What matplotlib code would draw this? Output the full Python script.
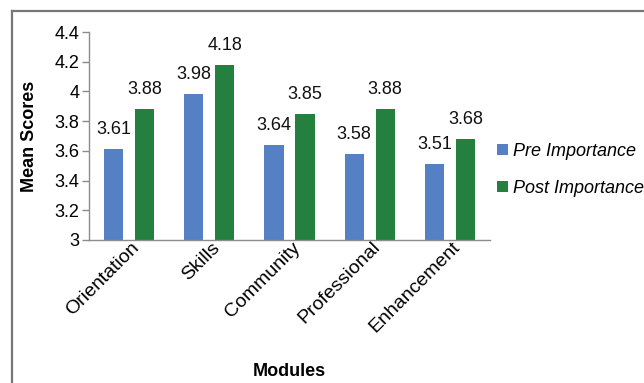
import matplotlib.pyplot as plt
import matplotlib.transforms as mtransforms
import numpy as np
from matplotlib.lines import Line2D

plt.rcParams['font.family'] = ['Liberation Sans', 'DejaVu Sans']

modules = ["Orientation", "Skills", "Community", "Professional", "Enhancement"]
pre_scores = [3.61, 3.98, 3.64, 3.58, 3.51]
post_scores = [3.88, 4.18, 3.85, 3.88, 3.68]
y_ticks = [3, 3.2, 3.4, 3.6, 3.8, 4, 4.2, 4.4]
y_tick_labels = ["3", "3.2", "3.4", "3.6", "3.8", "4", "4.2", "4.4"]

blue = "#5580C3"
green = "#23803F"
grey = "#8C8C8C"

fig = plt.figure(figsize=(6.44, 3.83), dpi=100)
ax = fig.add_axes([0.1382, 0.3734, 0.6227, 0.5430])

x = np.arange(len(modules))
w = 0.24
off = 0.193
b1 = ax.bar(x - off, pre_scores, w, color=blue, label="Pre Importance")
b2 = ax.bar(x + off, post_scores, w, color=green, label="Post Importance")

for bars, vals in ((b1, pre_scores), (b2, post_scores)):
    for rect, v in zip(bars, vals):
        ax.annotate(f"{v:.2f}", (rect.get_x() + rect.get_width() / 2, v),
                    xytext=(0, 8), textcoords="offset points",
                    ha="center", va="bottom", fontsize=13, color="#111111")

ax.set_xlim(-0.5, len(modules) - 0.5)
ax.set_ylim(3, 4.4)
ax.set_yticks(y_ticks)
ax.set_yticklabels(y_tick_labels, fontsize=13)
ax.set_xticks(x)
ax.set_xticklabels(modules, fontsize=14, rotation=45, ha="right",
                   va="center", rotation_mode="anchor")
ax.tick_params(axis="x", length=0, pad=5)
ax.tick_params(axis="y", length=5, color=grey, width=1, pad=2)

# nudge the slanted module names to the right
shift = mtransforms.ScaledTranslation(0.08, 0.02, fig.dpi_scale_trans)
for lbl in ax.get_xticklabels():
    lbl.set_transform(lbl.get_transform() + shift)

for side in ("top", "right"):
    ax.spines[side].set_visible(False)
for side in ("left", "bottom"):
    ax.spines[side].set_color(grey)
    ax.spines[side].set_linewidth(1)

ax.set_ylabel("Mean Scores", fontsize=13, fontweight="bold", labelpad=12)
fig.text(0.449, 1 - 371 / 383, "Modules", fontsize=13, fontweight="bold",
         ha="center", va="center")

fig.legend(handles=[b1, b2], loc="center left",
           bbox_to_anchor=(490 / 644, 1 - 170 / 383),
           frameon=False, prop={"style": "italic", "size": 13},
           handlelength=0.6, handleheight=0.6, handletextpad=0.3,
           labelspacing=1.1, borderaxespad=0)

# outer frame: top and left edges only
fig.add_artist(Line2D([12 / 644, 1], [1 - 11 / 383, 1 - 11 / 383],
                      transform=fig.transFigure, color="#777777", lw=1.6))
fig.add_artist(Line2D([12 / 644, 12 / 644], [0, 1 - 11 / 383],
                      transform=fig.transFigure, color="#777777", lw=1.6))

fig.savefig("out.png", dpi=100)
